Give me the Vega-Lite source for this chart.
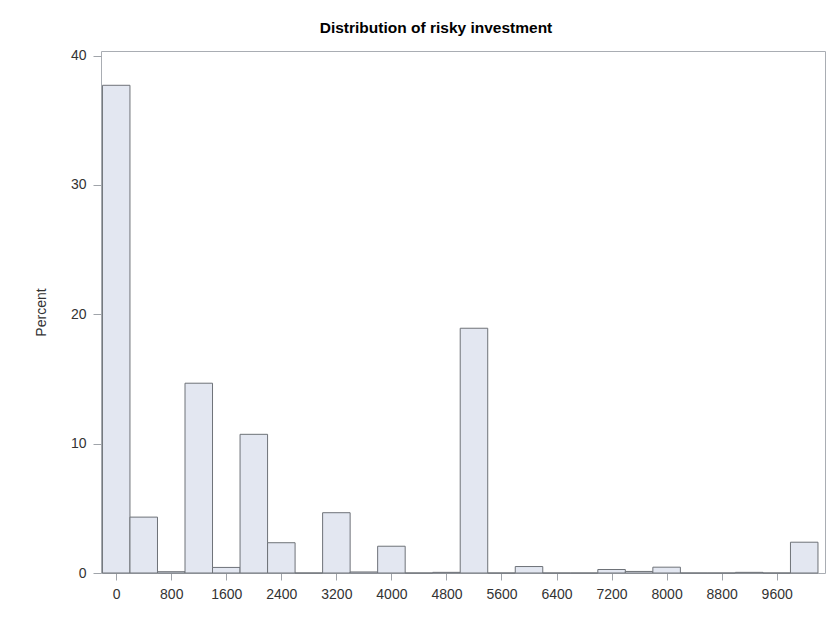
{
  "$schema": "https://vega.github.io/schema/vega-lite/v6.json",
  "autosize": "none",
  "width": 724,
  "height": 522,
  "padding": {"left": 101, "top": 51, "right": 9, "bottom": 46},
  "background": "white",
  "title": {
    "text": "Distribution of risky investment",
    "font": "Liberation Sans",
    "fontSize": 15.5,
    "fontWeight": "bold",
    "color": "#000000",
    "anchor": "middle",
    "dx": -27,
    "offset": 12
  },
  "config": {
    "view": {"stroke": "#a9adb3", "strokeWidth": 1},
    "axis": {
      "labelFont": "Liberation Sans",
      "labelFontSize": 14,
      "labelColor": "#333333",
      "titleFont": "Liberation Sans",
      "titleFontSize": 14,
      "titleFontWeight": "normal",
      "titleColor": "#333333",
      "tickColor": "#a0a4aa",
      "grid": false,
      "domain": false
    }
  },
  "data": {
    "values": [
      {"bin_start": -200, "bin_end": 200, "percent": 37.7},
      {"bin_start": 200, "bin_end": 600, "percent": 4.32},
      {"bin_start": 600, "bin_end": 1000, "percent": 0.1},
      {"bin_start": 1000, "bin_end": 1400, "percent": 14.67},
      {"bin_start": 1400, "bin_end": 1800, "percent": 0.43},
      {"bin_start": 1800, "bin_end": 2200, "percent": 10.72},
      {"bin_start": 2200, "bin_end": 2600, "percent": 2.34},
      {"bin_start": 2600, "bin_end": 3000, "percent": 0},
      {"bin_start": 3000, "bin_end": 3400, "percent": 4.66},
      {"bin_start": 3400, "bin_end": 3800, "percent": 0.08},
      {"bin_start": 3800, "bin_end": 4200, "percent": 2.07},
      {"bin_start": 4200, "bin_end": 4600, "percent": 0},
      {"bin_start": 4600, "bin_end": 5000, "percent": 0.05},
      {"bin_start": 5000, "bin_end": 5400, "percent": 18.92},
      {"bin_start": 5400, "bin_end": 5800, "percent": 0},
      {"bin_start": 5800, "bin_end": 6200, "percent": 0.5},
      {"bin_start": 6200, "bin_end": 6600, "percent": 0},
      {"bin_start": 6600, "bin_end": 7000, "percent": 0},
      {"bin_start": 7000, "bin_end": 7400, "percent": 0.27},
      {"bin_start": 7400, "bin_end": 7800, "percent": 0.12},
      {"bin_start": 7800, "bin_end": 8200, "percent": 0.45},
      {"bin_start": 8200, "bin_end": 8600, "percent": 0},
      {"bin_start": 8600, "bin_end": 9000, "percent": 0},
      {"bin_start": 9000, "bin_end": 9400, "percent": 0.05},
      {"bin_start": 9400, "bin_end": 9800, "percent": 0},
      {"bin_start": 9800, "bin_end": 10200, "percent": 2.38}
    ]
  },
  "mark": {"type": "rect", "fill": "#e3e7f1", "stroke": "#6e7278", "strokeWidth": 1},
  "encoding": {
    "x": {
      "field": "bin_start",
      "type": "quantitative",
      "scale": {"domain": [-221, 10302], "nice": false, "zero": false},
      "axis": {
        "title": null,
        "values": [0, 800, 1600, 2400, 3200, 4000, 4800, 5600, 6400, 7200, 8000, 8800, 9600],
        "format": "d",
        "labelAngle": 0,
        "tickSize": 7,
        "labelPadding": 7,
        "labelFlush": false
      }
    },
    "x2": {"field": "bin_end"},
    "y": {
      "field": "percent",
      "type": "quantitative",
      "scale": {"domain": [0, 40.35], "nice": false},
      "axis": {
        "title": "Percent",
        "values": [0, 10, 20, 30, 40],
        "tickSize": 8,
        "labelPadding": 7,
        "titlePadding": 22,
        "labelFlush": false
      }
    },
    "y2": {"datum": 0}
  }
}
